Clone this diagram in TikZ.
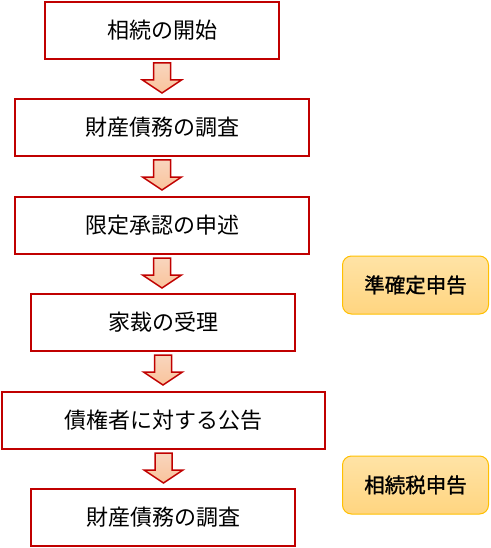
\documentclass[tikz,border=0pt]{standalone}
\usepackage{fontspec}
\usepackage{xcolor}
\usepackage{tikz}
\usetikzlibrary{positioning,calc}
\newfontfamily\jpfont{Noto Sans CJK JP}
\newfontfamily\jpnotefont[FakeBold=1.2]{Noto Sans CJK JP}
\definecolor{stepred}{HTML}{C00000}
\definecolor{arrowfill}{HTML}{F8CBAD}
\definecolor{noteline}{HTML}{FFC000}
\definecolor{notetop}{HTML}{FFE3A6}
\definecolor{notebot}{HTML}{FFD580}

\tikzset{
  stepbox/.style={draw=stepred, line width=2pt, fill=white, minimum height=57pt, inner sep=0pt, font=\jpfont\fontsize{22}{26}\selectfont},
  notebox/.style={draw=noteline, line width=1pt, rounded corners=9pt, top color=notetop, bottom color=notebot, minimum width=146pt, minimum height=58pt, inner sep=0pt, font=\jpnotefont\fontsize{20.5}{24}\selectfont},
  blockarrow/.style={draw=stepred, line width=1.5pt, top color=arrowfill!80!white, bottom color=arrowfill!90!orange, line join=miter}
}

\begin{document}
\begin{tikzpicture}[x=1pt,y=-1pt]
\useasboundingbox (0,0) rectangle (490,548);
\node[stepbox, minimum width=234pt] (start) at (162,30.5) {相続の開始};
\node[stepbox, minimum width=294pt] (survey) at (162,127.5) {財産債務の調査};
\node[stepbox, minimum width=294pt] (petition) at (162,225.5) {限定承認の申述};
\node[stepbox, minimum width=264pt] (accept) at (163,322.5) {家裁の受理};
\node[stepbox, minimum width=323pt] (notice) at (163.5,420.5) {債権者に対する公告};
\node[stepbox, minimum width=264pt] (survey2) at (163,517.5) {財産債務の調査};

\node[notebox] (taxfinal) at (415.5,285) {準確定申告};
\node[notebox] (taxinherit) at (415.5,485) {相続税申告};

% block arrows between the steps
\foreach \a in {start,survey,petition,accept,notice}{
  \draw[blockarrow] ($(\a.south)+(-8.5,3)$) -- ++(17,0) -- ++(0,17) -- ++(11,0)
    -- ++(-19.5,13) -- ++(-19.5,-13) -- ++(11,0) -- cycle;
}
\end{tikzpicture}
\end{document}
